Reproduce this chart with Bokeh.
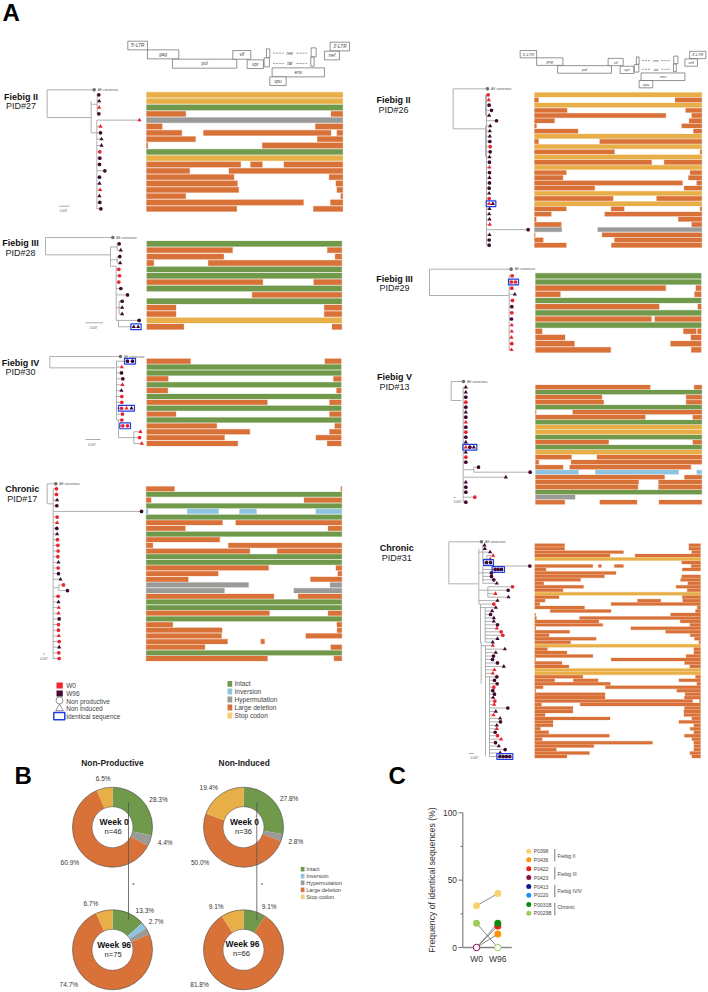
from math import pi
from bokeh.plotting import figure
from bokeh.models import Range1d
from bokeh.core.properties import value
from bokeh.embed import file_html
from bokeh.resources import INLINE

# ---------- DATA: genome bars (type, seg-start, seg-end, ...) in % of genome ----------
F = (0, 100)
PID27_ROWS = [("S",*F),("S",*F),("I",*F),("D",0,20,94,100),("H",*F),("D",0,8,86,100),("D",0,18,29,94,97,100),
 ("D",0,25,87,100),("D",0,.7,59,100),("I",*F),("S",*F),("D",0,48,53,59,70,100),("D",0,22,42,100),("D",0,44.6,93,100),
 ("D",0,46.3,96.5,100),("D",0,47,97,100),("D",0,20,99,100),("D",0,80,93.7,100),("D",0,46,85,100)]
PID28_ROWS = [("I",*F),("D",0,44,92.6,100),("D",0,39.5,96.6,100),("D",0,3.6,31.5,100),("I",*F),("I",*F),("D",0,59.5,85.6,100),
 ("I",*F),("D",54,100),("I",*F),("D",0,15,91,100),("D",0,15,91,100),("S",*F),("D",0,19,95,100)]
PID30_ROWS = [("D",0,22.5,91.6,100),("I",*F),("I",*F),("D",0,11,96,100),("I",*F),("D",0,10.8,97.6,100),("I",*F),("D",0,62,94,100),
 ("I",*F),("D",0,15,94,100),("I",*F),("D",0,36,96.7,100),("D",0,53,94,100),("D",0,40,87,100),("D",0,46.8,92.8,100)]
PID17_ROWS = [("D",0,14.5,99.5,100),("I",*F),("D",0,2.5,80.7,100),("I",*F),("V",0,1,21,37,47.7,56.4,86.7,100),("I",*F),("D",0,39,45.8,100),
 ("D",0,20,93,100),("I",*F),("D",0,37.6),("D",0,3.4,42,100),("D",0,53,67,100),("I",*F),("I",*F),("D",0,62.6,97,100),("D",0,36.8,98,100),
 ("D",0,21.5,84,100),("H",0,52.3,94,100),("H",0,40,75.5,100),("D",0,65.3,77.7,100),("I",*F),("I",*F),("D",0,63,93,100),("I",*F),
 ("D",0,13.6,97.5,100),("D",0,38.8,97.6,100),("D",0,38.5,81.6,100),("D",0,41.6,58.6,60.5),("D",0,30,94.4,100),("I",*F),("D",0,62,96,100)]
PID26_ROWS = [("S",*F),("D",0,2.4,84,100),("S",*F),("D",0,19.5,90.4,100),("D",0,78.5,94,100),("D",0,12,92.4,100),("D",0,1.2,88,100),
 ("D",0,26,95,100),("S",*F),("D",0,2.4,39,100),("S",*F),("D",0,47.8,99,100),("S",*F),("D",0,70,77.5,100),("S",*F),("D",0,19,93,100),
 ("D",0,17,92,100),("D",0,88.5,97,100),("D",0,36,89.4,100),("S",*F),("D",0,47,73,100),("S",*F),("D",0,19,45.8,53.6,99,100),("D",0,10,42,100),
 ("D",0,1,86,100),("D",0,16,94,100),("H",0,16.3,37.8,100),("D",0,.4,40.4,100),("D",0,5.2,47.8,100),("D",0,19,46,100)]
PID29_ROWS = [("I",*F),("I",*F),("D",0,78.6,96.8,100),("D",0,15,96,100),("I",*F),("D",0,74.6,98,100),("I",*F),("D",0,70,72,100),("I",*F),
 ("D",0,4,89.3,97,97.8,100),("D",0,17.8,93.8,100),("D",0,23.5,81.5,100),("D",0,45.4,94,100)]
PID13_ROWS = [("D",0,69,95.4,100),("I",*F),("D",0,40,90.6,100),("D",0,41,90.6,100),("I",*F),("D",0,.4,22.4,100),("D",0,66,94.6,100),("I",*F),
 ("S",*F),("S",*F),("I",*F),("D",0,44,94.6,100),("I",*F),("S",*F),("D",0,21.6,37,100),("D",0,2,21.4,100),("D",0,16.6,20.6,93.4),
 ("V",0,25.8,36,86,97,100),("D",0,77.6,89.6,100),("D",0,62,74,100),("D",0,61.6,74,100),("I",*F),("H",0,23.8),("D",0,17.6,38.7,61,74.3,100)]
PID31_ROWS = [("D",0,18,93,100),("D",0,18,93,100),("D",0,53.5,94.7,100),("D",0,45.4,60.5,100),("S",*F),("D",88.7,100),
 ("D",0,35,38.4,40.2,48,53.5,94.4,100),("D",0,6.8,89,100),("D",0,49),("D",0,42,88.7,100),("D",0,27.6,88,100),("D",0,5.4,92.4,100),
 ("D",0,29.4,85.3,100),("D",0,17,92,100),("S",*F),("D",0,14.6,89,100),("D",0,6.2,62,76,89.3,100),("D",0,3,46,100),("D",0,30,98,100),
 ("D",9.3,46,97,100),("D",0,.4,82,100),("D",0,1,27,100),("D",0,38.6,87.8,100),("D",0,41,93.6,100),("D",0,.6,58,100),("D",0,21,79,100),
 ("D",0,8.6,93.8,100),("D",0,37,96.4,100),("D",0,21.6,99,100),("S",*F),("D",0,7.6,96,100),("D",0,19.4,96,100),("D",0,35,91.3,100),
 ("D",0,.4,46,100),("D",0,16.4,90.4,100),("D",0,20.6,93.6,100),("S",*F),("S",*F),("D",0,29,97,100),("D",0,12,23.3,38.2,87,100),
 ("D",0,45.6,97.8,100),("D",0,5,42.6,100),("D",0,.5,85.7,100),("D",0,42.4,90.7,100),("D",0,42.4,90.3,100),("D",0,95.2,99.4,100),
 ("D",0,4,27.4,100),("D",0,23,90.3,100),("D",0,23,90,100),("D",0,6.2,90,100),("D",0,45.4,94.8,100),("D",0,11,87,100),("D",0,11,96,100),
 ("D",0,3.4,93.8,100),("D",0,8.4,96,100),("D",0,45,90.3,100),("D",0,4.4,94.8,100),("D",0,71,96,100),("D",0,35.6,96,100),("D",0,13,96,100),
 ("D",0,33,93.6,100),("D",0,19.4,94.8,100)]

# ---------- DATA: tree tips, per row: divergence + shape (c/t) + time point (r=W0, d=W96) ----------
PID27_TIPS = "295cd,296td,296tr,295cd,417tr,300tr,300cd,303td,303td,298cr,298cd,297cd,313cd,297cd,297td,299tr,297td,298cd,301cd"
PID28_TIPS = "356cd,361td,358cd,359td,355cr,357cr,355cr,361cd,381cd,365cd,365td,365td,416cd,400td 413td"
PID30_TIPS = "381cd 396cd,364tr,363cd,367cd,366tr,363td,364cr,364cr,363cr 378tr 393td,366cr,364cr,367cr 381cr,420tr,417cr,424tr"
PID17_TIPS = ("168cr,168cr,170td,169cd,423cd,170cr,170tr,169cd,170td,171cr,172cr,173cr,172cr,174td,173cr,174cd,180td,189cr,201cd,"
              "173cr,174td,175tr,174tr,176cd,174cr,174cr,175tr,176cr,176td,175cr,176cr")
PID26_TIPS = ("401cr,403tr,404cd,411cd,404td,426cd,407td,406td,406td,406cd,407cr,407cd,405td,405cd,405tr,405cd,405td,405cd,404cd,404td,"
              "404cr,404tr 415td,405td,404td,405td,406tr,521cd,405td,404cd,404cd")
PID29_TIPS = "473cr,471cr 483cr,472cr,481td,474cr,472cd,472cr,471cd,472tr,472tr,471tr,472cr,471tr"
PID13_TIPS = ("334td,334td,334cd,334cr,334cd,334td,334cd,334tr,334cd,334cr,334cd,334td,334tr 346cd 358td,334td,334cr,334cd,372cd,527cd,"
              "454td,334td,334cd,334cd,361cr,334cd")
PID31_TIPS = ("390td,391td,407td,416tr,407tr,396cd 408cd,526cd,422cd 431cd 441cd,411cd,411cd,418cd,427td,474cr,461cd,423tr,462td,429td,418cr,"
              "424td,413td,408cd,418td,418td,429cd,427tr,440cr,445cr,429td,415td,415tr,451td,424td,417cd,414cd,429cd,448td,420tr,415tr,427cd,"
              "420cd,428cd,418cr,415cd,420cd,416td,421cr,419tr,460cd,424td,417tr,437td,438cd,427td,427tr,422cd,429cr,440tr,423cd,433td,452cd,"
              "437td,436cd 446cd 456cd 466cd")

# ---------- DATA: donuts (%), ordered clockwise from the top ----------
SEG_TYPES = ["I", "V", "H", "D", "S"]
SEG_NAMES = ["Intact", "Inversion", "Hypermutation", "Large deletion", "Stop codon"]
NP_W0 = [28.3, 0, 4.4, 60.9, 6.5]
NP_W96 = [13.3, 2.7, 2.6, 74.7, 6.7]
NI_W0 = [27.8, 0, 2.8, 50.0, 19.4]
NI_W96 = [9.1, 0, 0, 81.8, 9.1]

# ---------- DATA: panel C ----------
C_IDS = ["P0398", "P0436", "P0422", "P0423", "P0413", "P0220", "P0031B", "P0029B"]
C_W0 = [31, 0, 0, 0, None, None, 0, 18]
C_W96 = [40, 10, 16, 0, None, None, 18, 0]
C_TICKS = [0, 25, 50, 75, 100]
C_TICK_LABELS = ["0", "", "50", "", "100"]
C_GROUPS = ["Fiebig II", "Fiebig III", "Fiebig IV/V", "Chronic"]

# ---------- STYLE ----------
FONT = "Liberation Sans"
COL = {"I": "#71994b", "V": "#8fc4e0", "H": "#9a9a98", "D": "#d97238", "S": "#e8ae47"}
LEG = {"I": "#71994b", "V": "#8fc4e0", "H": "#9a9a98", "D": "#d97238", "S": "#f8cd78"}
TIP = {"r": "#e9242f", "d": "#3f0a2e"}
C_COL = ["#fbd36c", "#ff9309", "#f51d12", "#8e1150", "#0b1a8c", "#1b90ff", "#0b8a12", "#9dcc58"]
BLUE = "#1f3fe0"
GREY = "#9c9c9c"

p = figure(width=708, height=992, x_range=Range1d(0, 708), y_range=Range1d(0, 992),
           output_backend="svg", toolbar_location=None, min_border=0)
p.xaxis.visible = False
p.yaxis.visible = False
p.grid.visible = False
p.outline_line_color = None
p.background_fill_color = "white"


def Y(v):
    return 992 - v


def txt(x, y, s, size, bold=False, color="#222222", align="left", italic=False, angle=0):
    style = "bold" if bold else ("italic" if italic else "normal")
    p.text([x], [Y(y)], text=[s], text_font=value(FONT), text_font_size=f"{size}px", text_font_style=style,
           text_color=color, text_align=align, text_baseline="middle", angle=angle)


def bars(rows, x0, x1, y0, y1, hfrac=0.84):
    n = len(rows)
    sp = (y1 - y0) / (n - 1)
    L, R, T, B, C = [], [], [], [], []
    for i, row in enumerate(rows):
        y = y0 + i * sp
        vals = row[1:]
        for a, b in zip(vals[0::2], vals[1::2]):
            L.append(x0 + (x1 - x0) * a / 100)
            R.append(x0 + (x1 - x0) * b / 100)
            T.append(Y(y - sp * hfrac / 2))
            B.append(Y(y + sp * hfrac / 2))
            C.append(COL[row[0]])
    p.quad(left=L, right=R, top=T, bottom=B, fill_color=C, line_color=C, line_alpha=0.45, line_width=0.6)
    return [y0 + i * sp for i in range(n)]


def tree(tips, ys, ox, oy, root_x, cons_x, cons_y, join_x, join_y, spines):
    """zoom-scale tree values -> page positions"""
    X = lambda v: ox + v / 3
    YY = lambda v: oy + v / 3
    xs, yv = [], []
    def seg(a, b, c, d):
        xs.append([a, c]); yv.append([Y(b), Y(d)])
    seg(X(root_x), YY(cons_y), X(cons_x), YY(cons_y))
    seg(X(root_x), YY(cons_y), X(root_x), YY(join_y))
    seg(X(root_x), YY(join_y), X(join_x), YY(join_y))
    def ry(r):
        i = int(r)
        return ys[min(i, len(ys) - 1)] + (r - i) * (ys[1] - ys[0])
    for s in spines:
        seg(X(s[0]), ry(s[1]), X(s[0]), ry(s[2]))
        if len(s) > 3:
            seg(X(s[3]), ry(s[4]), X(s[0]), ry(s[4]))
    mk = {("c", "r"): ([], []), ("c", "d"): ([], []), ("t", "r"): ([], []), ("t", "d"): ([], [])}
    boxes = []
    for i, row in enumerate(tips.split(",")):
        parts = row.split()
        vals = [float(q[:-2]) for q in parts]
        cand = [s[0] for s in spines if s[1] <= i <= s[2] and s[0] <= vals[0]]
        base = max(cand) if cand else spines[0][0]
        seg(X(base), ys[i], X(vals[0]), ys[i])
        for q, v in zip(parts, vals):
            mk[(q[-2], q[-1])][0].append(X(v))
            mk[(q[-2], q[-1])][1].append(Y(ys[i]))
        if len(parts) > 1:
            boxes.append((X(vals[0]) - 3, X(vals[-1]) + 3, ys[i]))
    p.multi_line(xs, yv, line_color=GREY, line_width=0.8)
    p.scatter([X(cons_x)], [Y(YY(cons_y))], size=3.6, marker="circle", fill_color="#6e6e6e", line_width=0)
    txt(X(cons_x) + 3.5, YY(cons_y), "AE consensus", 3.2, color="#555555")
    for (sh, t), (a, b) in mk.items():
        p.scatter(a, b, marker="circle" if sh == "c" else "triangle", size=3.7 if sh == "c" else 4.2,
                  fill_color=TIP[t], line_width=0)
    for a, b, y in boxes:
        p.quad(left=[a], right=[b], top=[Y(y - 2.9)], bottom=[Y(y + 2.9)], fill_color=None, line_color=BLUE, line_width=1.2)


def scalebar(x0, x1, y, tx, ty):
    p.line([x0, x1], [Y(y), Y(y)], line_color="#888888", line_width=0.7)
    txt(tx, ty, "0.007", 3, color="#555555", align="center")


def genes(ox, oy, sx, sy):
    X = lambda v: ox + (v - 382) * sx / 3
    YY = lambda v: oy + (v - 122) * sy / 3
    boxes = [("5'-LTR",382,441,122,148),("gag",441,535,148,175),("pol",516,709,176,203),("vif",697,751,150,176),
             ("vpr",740,789,178,204),("",798,808,145,171),("",791,807,172,199),("",932,947,142,169),("",931,941,170,197),
             ("3'-LTR",989,1047,125,151),("nef",972,1017,152,178),("env",815,972,202,229),("vpu",808,857,229,255)]
    for name, a, b, c, d in boxes:
        p.quad(left=[X(a)], right=[X(b)], top=[Y(YY(c))], bottom=[Y(YY(d))], fill_color="white",
               line_color="#666666", line_width=0.7)
        if name:
            txt((X(a) + X(b)) / 2, (YY(c) + YY(d)) / 2, name, 4.6 * (sx + 0.15) / 1.15, color="#444444", align="center", italic=True)
    for name, yy in (("rev", 158), ("tat", 189)):
        for a, b in ((818, 850), (888, 920)):
            p.line([X(a), X(b)], [Y(YY(yy)), Y(YY(yy))], line_color="#555555", line_width=0.6, line_dash="2 1")
        txt(X(868), YY(yy), name, 4.6 * (sx + 0.15) / 1.15, color="#444444", align="center", italic=True)


def patient(cx, y1, y2, a, b):
    txt(cx, y1, a, 9, bold=True, color="#111111", align="center")
    txt(cx, y2, b, 9, color="#222222", align="center")


# ---------- Panel A ----------
txt(2, 12, "A", 24, bold=True, color="#000000")
genes(127.3, 40.7, 1.0, 1.0)
genes(354 + 497 / 3, 30 + 60 / 3, 0.8376, 0.842)

ys = bars(PID27_ROWS, 146, 342.3, 94.3, 208.3)
tree(PID27_TIPS, ys, 0, 0, 140, 281, 268, 272, 351,
     [(272, 1, 6), (290, 0, 3, 272, 1.5), (289, 4, 18, 272, 6)])
scalebar(58.7, 69, 205.7, 63, 210)
patient(20.5, 96, 105.5, "Fiebig II", "PID#27")

ys = bars(PID28_ROWS, 146.3, 341.3, 243.3, 326.3)
tree(PID28_TIPS, ys, 0, 225, 135, 337, 36, 330, 88,
     [(330, .5, 3.5), (350, 0, 1, 330, .5), (350, 2, 3, 330, 2.5), (347, 3.5, 12, 330, 3.5),
      (356, 9, 11, 347, 10), (354, 12, 13, 347, 12)])
scalebar(85, 102.7, 322.3, 93, 326.3)
patient(20, 242.3, 252.3, "Fiebig III", "PID#28")

ys = bars(PID30_ROWS, 146.3, 340.7, 360.7, 443)
tree(PID30_TIPS, ys, 0, 225, 148, 360, 393, 345, 427,
     [(348, 0, 10), (354, 10, 13, 348, 10), (400, 12, 14, 354, 13)])
scalebar(85, 100, 439, 91.3, 443.3)
patient(20, 362, 371.7, "Fiebig IV", "PID#30")

ys = bars(PID17_ROWS, 145.7, 341.3, 488.3, 658)
tree(PID17_TIPS, ys, 0, 470, 140, 166, 40, 157, 100,
     [(158, 0, 30), (175, 17, 18, 160, 17.5)])
scalebar(42.7, 44.7, 653.3, 43.3, 658)
patient(21.7, 488, 498, "Chronic", "PID#17")

ys = bars(PID26_ROWS, 534, 701.3, 94.3, 244.7)
tree(PID26_TIPS, ys, 354, 30, 296, 399, 175, 393, 295,
     [(396, 0, 29), (393, 0, 4), (393, 6, 12)])
patient(393, 99.7, 109.7, "Fiebig II", "PID#26")

ys = bars(PID29_ROWS, 535, 700.7, 275.3, 349.3)
tree(PID29_TIPS, ys, 354, 260, 225, 470, 26, 462, 105, [(464, 0, 12)])
patient(394, 278, 287.7, "Fiebig III", "PID#29")

ys = bars(PID13_ROWS, 535, 701.3, 386.7, 501.7)
tree(PID13_TIPS, ys, 354, 260, 290, 327, 363, 320, 420,
     [(326, 0, 23), (358, 16, 17, 326, 16.5)])
scalebar(453, 455.3, 497, 457, 500.7)
patient(394, 376.3, 386.7, "Fiebig V", "PID#13")

ys = bars(PID31_ROWS, 534.3, 700, 544.7, 756, hfrac=0.86)
tree(PID31_TIPS, ys, 354, 530, 283, 381, 34, 372, 160,
     [(373, 1, 17), (385, 0, 5, 373, 2), (397, 3, 5, 385, 4), (400, 12, 15, 373, 13), (385, 6, 11, 373, 8),
      (378, 17, 28, 373, 17), (392, 18, 28, 378, 18), (380, 28, 40, 378, 28), (393, 29, 61, 380, 29), (405, 38, 61, 393, 38)])
scalebar(468.3, 473.3, 753, 474, 757)
patient(396.3, 547.7, 557.7, "Chronic", "PID#31")

# legend of panel A
p.quad(left=[56], right=[62.3], top=[Y(682)], bottom=[Y(688)], fill_color="#f4252f", line_width=0)
p.quad(left=[56], right=[62.3], top=[Y(690)], bottom=[Y(696)], fill_color="#4a0a2f", line_width=0)
p.scatter([59], [Y(700)], marker="circle", size=7, fill_color="white", line_color="#666666", line_width=0.7)
p.scatter([59], [Y(708)], marker="triangle", size=7.5, fill_color="white", line_color="#666666", line_width=0.7)
p.quad(left=[53.3], right=[64.3], top=[Y(712)], bottom=[Y(719.3)], fill_color=None, line_color=BLUE, line_width=1.5)
for yy, s in zip((685, 692.7, 700.7, 708, 715.7), ("W0", "W96", "Non productive", "Non induced", "Identical sequence")):
    txt(65.7, yy, s, 6.5, color="#444444")
for yy, t, s in zip((683.3, 691, 699, 707, 715), SEG_TYPES, SEG_NAMES):
    p.quad(left=[227], right=[231.7], top=[Y(yy - 2.9)], bottom=[Y(yy + 2.9)], fill_color=LEG[t], line_width=0)
    txt(234, yy, s, 6.6, color="#444444")

# ---------- Panel B ----------
txt(14, 774.5, "B", 24, bold=True, color="#000000")


def donut(cx, cy, vals):
    a = 0.0
    for v, t in zip(vals, SEG_TYPES):
        if v > 0:
            p.annular_wedge([cx], [Y(cy)], inner_radius=20.5, outer_radius=40,
                            start_angle=pi / 2 - 2 * pi * (a + v) / 100, end_angle=pi / 2 - 2 * pi * a / 100,
                            fill_color=COL[t], line_color=None)
        a += v
    p.circle([cx], [Y(cy)], radius=40, fill_color=None, line_color="#4a4a4a", line_width=0.6)
    p.circle([cx], [Y(cy)], radius=20.5, fill_color=None, line_color="#4a4a4a", line_width=0.5)


donut(112, 826.7, NP_W0)
donut(243, 826.7, NI_W0)
donut(112, 949.3, NP_W96)
donut(243, 949.3, NI_W96)
for x in (128, 256.3):
    p.line([x, x], [Y(801.7), Y(920)], line_color="#555555", line_width=0.8)
    txt(x + 5, 884, "*", 6, color="#333333", align="center")
Z = lambda v: v / 3
ZY = lambda v: 750 + v / 3
for x, y, s in [(308, 85, "6.5%"), (474, 147, "28.3%"), (494, 275, "4.4%"), (208, 335, "60.9%"), (625, 112, "19.4%"),
                (866, 145, "27.8%"), (886, 273, "2.8%"), (599, 335, "50.0%"), (271, 458, "6.7%"), (433, 480, "13.3%"),
                (467, 514, "2.7%"), (205, 702, "74.7%"), (647, 468, "9.1%"), (806, 468, "9.1%"), (597, 702, "81.8%")]:
    txt(Z(x), ZY(y), s, 6.5, color="#333333", align="center")
txt(Z(336), ZY(37), "Non-Productive", 8.4, bold=True, align="center")
txt(Z(731), ZY(37), "Non-Induced", 8.4, bold=True, align="center")
for x, y, a, b in [(341, 215, "Week 0", "n=46"), (732, 215, "Week 0", "n=36"), (341, 582, "Week 96", "n=75"), (726, 580, "Week 96", "n=66")]:
    txt(Z(x), ZY(y), a, 8.5, bold=True, color="#111111", align="center")
    txt(Z(x) - 1, ZY(y + 29), b, 7.6, color="#222222", align="center")
for yy, t, s in zip((868.7, 875.7, 882.3, 889.3, 896.3), SEG_TYPES, SEG_NAMES):
    p.quad(left=[300.3], right=[304], top=[Y(yy - 2.3)], bottom=[Y(yy + 2.3)], fill_color=LEG[t], line_width=0)
    txt(305.7, yy, s, 5.5, color="#444444")

# ---------- Panel C ----------
txt(388, 774.5, "C", 24, bold=True, color="#000000")
cx0, cx1 = 476, 497.3
CV = lambda v: Y(947 - v * (947 - 812.3) / 100)
AX = "#8a8a8a"
p.line([462.3, 462.3], [CV(0), CV(100)], line_color=AX, line_width=1.3)
p.line([462.3, 511.3], [CV(0), CV(0)], line_color=AX, line_width=1.3)
for t, l in zip(C_TICKS, C_TICK_LABELS):
    p.line([458 if l else 460, 462.3], [CV(t), CV(t)], line_color="#666666", line_width=0.9)
    if l:
        p.text([456.5], [CV(t)], text=[l], text_font=value(FONT), text_font_size="8.4px", text_color="#333333",
               text_align="right", text_baseline="middle")
txt(431, 879.5, "Frequency of identical sequences (%)", 8.7, color="#333333", align="center", angle=pi / 2)
txt(cx0, 958, "W0", 8.5, color="#333333", align="center")
txt(cx1, 958, "W96", 8.5, color="#333333", align="center")
for a, b in zip(C_W0, C_W96):
    if a is not None:
        p.line([cx0, cx1], [CV(a), CV(b)], line_color="#7a7a7a", line_width=0.9)
for i in [1, 2, 0, 6]:
    p.scatter([cx1], [CV(C_W96[i])], marker="circle", size=7, fill_color=C_COL[i], line_width=0)
p.scatter([cx0], [CV(C_W0[0])], marker="circle", size=7, fill_color=C_COL[0], line_width=0)
p.scatter([cx0], [CV(C_W0[7])], marker="circle", size=7, fill_color=C_COL[7], line_width=0)
p.scatter([cx0], [CV(0)], marker="circle", size=6.5, fill_color="white", line_color=C_COL[3], line_width=1)
p.scatter([cx1], [CV(0)], marker="circle", size=6.5, fill_color="white", line_color=C_COL[7], line_width=1)
for yy, s, c in zip((850.7, 859.3, 868.3, 877, 886, 894.7, 904, 912.7), C_IDS, C_COL):
    p.scatter([528.3], [Y(yy)], marker="circle", size=5, fill_color=c, line_width=0)
    txt(533.3, yy, s, 5, color="#444444")
for (a, b, yy), s in zip(((848.7, 861, 855), (866.7, 879, 873), (884.3, 896.7, 890), (902.3, 915, 906.7)), C_GROUPS):
    p.line([554.3, 554.3], [Y(a), Y(b)], line_color="#555555", line_width=0.8)
    txt(557, yy, s, 5, color="#444444")

open("out.html", "w").write(file_html(p, INLINE))
